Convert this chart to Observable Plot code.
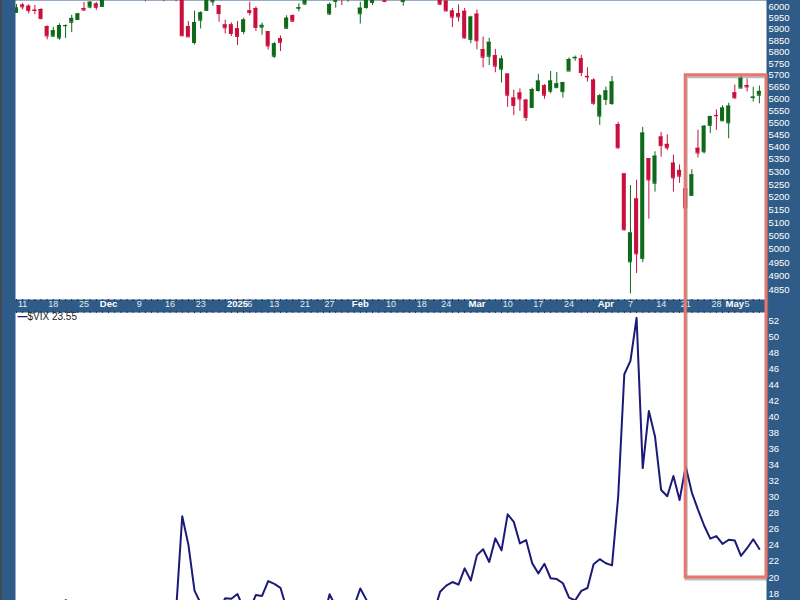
<!DOCTYPE html>
<html>
<head>
<meta charset="utf-8">
<script src="https://cdn.jsdelivr.net/npm/d3@7"></script>
<script src="https://cdn.jsdelivr.net/npm/@observablehq/plot@0.6"></script>
<style>
html, body { margin:0; padding:0; background:#2e5b87; width:800px; height:600px; overflow:hidden; }
#wrap { position:relative; width:800px; height:600px; }
#wrap svg { display:block; }
#edge { position:absolute; left:0; top:0; width:2px; height:600px; background:#3f4b56; }
#overlay { position:absolute; left:0; top:0; pointer-events:none; }
</style>
</head>
<body>
<div id="wrap"></div>
<script>
// ---- Data (trading days, S&P 500 OHLC and $VIX close) ----
const dates = ["2024-11-08","2024-11-11","2024-11-12","2024-11-13","2024-11-14","2024-11-15","2024-11-18","2024-11-19","2024-11-20","2024-11-21","2024-11-22","2024-11-25","2024-11-26","2024-11-27","2024-11-29","2024-12-02","2024-12-03","2024-12-04","2024-12-05","2024-12-06","2024-12-09","2024-12-10","2024-12-11","2024-12-12","2024-12-13","2024-12-16","2024-12-17","2024-12-18","2024-12-19","2024-12-20","2024-12-23","2024-12-24","2024-12-26","2024-12-27","2024-12-30","2024-12-31","2025-01-02","2025-01-03","2025-01-06","2025-01-07","2025-01-08","2025-01-10","2025-01-13","2025-01-14","2025-01-15","2025-01-16","2025-01-17","2025-01-21","2025-01-22","2025-01-23","2025-01-24","2025-01-27","2025-01-28","2025-01-29","2025-01-30","2025-01-31","2025-02-03","2025-02-04","2025-02-05","2025-02-06","2025-02-07","2025-02-10","2025-02-11","2025-02-12","2025-02-13","2025-02-14","2025-02-18","2025-02-19","2025-02-20","2025-02-21","2025-02-24","2025-02-25","2025-02-26","2025-02-27","2025-02-28","2025-03-03","2025-03-04","2025-03-05","2025-03-06","2025-03-07","2025-03-10","2025-03-11","2025-03-12","2025-03-13","2025-03-14","2025-03-17","2025-03-18","2025-03-19","2025-03-20","2025-03-21","2025-03-24","2025-03-25","2025-03-26","2025-03-27","2025-03-28","2025-03-31","2025-04-01","2025-04-02","2025-04-03","2025-04-04","2025-04-07","2025-04-08","2025-04-09","2025-04-10","2025-04-11","2025-04-14","2025-04-15","2025-04-16","2025-04-17","2025-04-21","2025-04-22","2025-04-23","2025-04-24","2025-04-25","2025-04-28","2025-04-29","2025-04-30","2025-05-01","2025-05-02","2025-05-05","2025-05-06","2025-05-07"];

const open  = [5976,6009,6004,5986,5989,5912,5870,5862,5917,5932,5944,5993,6000,6014,6003,6040,6042,6069,6089,6081,6084,6058,6060,6075,6068,6063,6053,6047,5912,5842,5941,5985,6024,6006,5920,5920,5903,5891,5983,5993,5910,5890,5782,5859,5905,5961,5995,6014,6082,6076,6121,5969,6026,6058,6068,6095,5970,5998,6021,6072,6083,6046,6049,6025,6060,6116,6122,6118,6134,6114,6027,5982,5971,5981,5856,5968,5811,5782,5785,5726,5705,5603,5624,5594,5563,5635,5655,5632,5647,5630,5718,5775,5771,5695,5679,5527,5597,5580,5492,5292,4953,5193,4966,5353,5255,5441,5411,5335,5306,5232,5207,5395,5381,5489,5530,5508,5499,5625,5645,5656,5605,5615];
const high  = [6012,6017,6010,6008,5993,5916,5909,5925,5920,5963,5972,6021,6025,6021,6045,6053,6053,6089,6099,6099,6088,6065,6092,6079,6078,6085,6058,6070,5935,5982,5979,6040,6050,6006,5941,5929,5935,5950,6022,6001,5928,5891,5842,5871,5961,5965,6015,6051,6101,6119,6128,6018,6074,6063,6086,6121,6022,6042,6062,6084,6101,6074,6076,6064,6116,6128,6130,6147,6135,6115,6043,5993,6010,5994,5959,5987,5866,5861,5812,5783,5705,5636,5642,5598,5645,5704,5660,5716,5712,5670,5775,5783,5786,5732,5685,5618,5650,5695,5501,5292,5246,5267,5481,5353,5381,5460,5450,5367,5328,5233,5309,5469,5489,5528,5553,5571,5581,5658,5700,5684,5649,5654];
const low   = [5976,5987,5969,5966,5942,5854,5866,5852,5860,5886,5944,5980,5992,5985,6003,6035,6033,6061,6072,6079,6045,6024,6060,6051,6024,6060,6024,5867,5866,5832,5902,5985,6004,5932,5880,5869,5829,5877,5960,5891,5874,5809,5773,5803,5905,5931,5979,6007,6074,6075,6088,5962,5995,6007,6022,6031,5924,5991,6007,6059,6020,6044,6042,6004,6051,6107,6100,6111,6087,6008,5978,5909,5933,5858,5837,5810,5732,5742,5711,5667,5564,5529,5547,5505,5563,5628,5598,5621,5646,5603,5718,5760,5694,5671,5572,5489,5572,5572,5391,5070,4835,4910,4950,5115,5220,5359,5386,5220,5255,5101,5207,5356,5372,5455,5468,5505,5434,5597,5645,5629,5586,5579];
const close = [5996,6001,5984,5985,5949,5871,5894,5917,5917,5949,5969,5987,6022,5999,6032,6047,6050,6086,6075,6090,6053,6035,6084,6051,6051,6074,6051,5872,5867,5931,5974,6040,6038,5971,5907,5882,5869,5942,5975,5909,5918,5827,5836,5843,5950,5937,5997,6049,6086,6119,6101,6012,6068,6039,6071,6041,5995,6038,6061,6084,6026,6066,6069,6052,6115,6115,6130,6144,6118,6013,5983,5955,5956,5862,5955,5850,5778,5843,5739,5770,5615,5572,5599,5522,5639,5675,5615,5675,5663,5668,5768,5777,5712,5693,5581,5612,5633,5671,5397,5074,5062,4983,5457,5268,5363,5406,5397,5276,5283,5158,5288,5376,5485,5525,5529,5561,5569,5604,5687,5650,5607,5631];

const vix = [14.94,14.97,14.71,14.02,14.31,16.14,15.58,16.35,17.16,16.87,15.24,14.60,14.10,14.10,13.51,13.34,13.30,13.45,13.54,12.77,14.19,14.18,13.58,13.92,13.81,14.69,15.87,27.62,24.09,18.36,16.78,14.27,14.73,15.95,17.40,17.35,17.93,16.13,16.04,17.82,17.70,19.54,19.19,18.71,16.12,16.60,15.97,15.06,15.10,15.02,14.85,17.90,16.41,16.56,15.84,16.43,18.62,17.21,15.77,15.50,16.54,15.81,16.02,15.89,15.10,14.77,15.35,15.27,15.66,18.21,18.98,19.43,19.10,21.13,19.63,22.78,23.51,21.93,24.87,23.37,27.86,26.92,24.23,24.66,21.77,20.51,21.70,19.90,19.80,19.28,17.48,17.15,18.33,18.69,21.65,22.28,21.77,21.51,30.02,45.31,46.98,52.33,33.62,40.72,37.56,30.89,30.12,32.64,29.65,33.82,30.57,28.45,26.47,24.84,25.15,24.17,24.70,24.60,22.68,23.64,24.76,23.55];

// Date-band tick labels
const tickDates  = ["2024-11-11","2024-11-18","2024-11-25","2024-12-02","2024-12-09","2024-12-16","2024-12-23","2025-01-02","2025-01-06","2025-01-13","2025-01-21","2025-01-27","2025-02-03","2025-02-10","2025-02-18","2025-02-24","2025-03-03","2025-03-10","2025-03-17","2025-03-24","2025-04-01","2025-04-07","2025-04-14","2025-04-21","2025-04-28","2025-05-01","2025-05-05"];
const tickLabels = ["11","18","25","Dec","9","16","23","2025","6","13","21","27","Feb","10","18","24","Mar","10","17","24","Apr","7","14","21","28","May","5"];

// Right-axis ticks
const priceTicks = d3.range(4850, 6001, 50);
const vixTicks = d3.range(18, 53, 2);

// Highlight box (annotation)
const highlightFrom = "2025-04-21";
const highlightPriceTop = 5700;
const highlightVixBottom = 20;
const vixSymbol = "$VIX";

// ---- Build ----
const GREEN = "#0e6a1a", RED = "#c9103d", NAVY = "#1c1a78";
const FONT = "Liberation Sans, Arial, Helvetica, sans-serif";
const rows = dates.map((d, i) => ({i, o: open[i], h: high[i], l: low[i], c: close[i], up: close[i] >= open[i]}));
const vrows = dates.map((d, i) => ({i, v: vix[i]}));
const idxAll = dates.map((d, i) => i);
const tickIdx = tickDates.map(d => dates.indexOf(d));
const labelAt = new Map(tickIdx.map((k, j) => [k, tickLabels[j]]));
const isWord = s => !/^\d{1,2}$/.test(s);
const dayTicks = tickIdx.filter(k => !isWord(labelAt.get(k)));
const wordTicks = tickIdx.filter(k => isWord(labelAt.get(k)));
const xDomain = [-0.156, 122.16];
const hw = 0.33;
const colorOf = d => d.up ? GREEN : RED;

const topPlot = Plot.plot({
  width: 800, height: 310,
  marginLeft: 15, marginRight: 34, marginTop: 0, marginBottom: 11,
  style: {background: "transparent", color: "white", fontFamily: FONT, overflow: "visible"},
  x: {type: "linear", domain: xDomain},
  y: {type: "log", domain: [4814.7, 6029.9]},
  marks: [
    Plot.frame({fill: "white", stroke: null}),
    Plot.ruleX(rows, {x: "i", y1: "l", y2: "h", stroke: colorOf, strokeWidth: 1, clip: true}),
    Plot.rect(rows, {x1: d => d.i - hw, x2: d => d.i + hw, y1: "o", y2: "c", fill: colorOf, clip: true}),
    Plot.ruleY(rows, {y: "c", x1: d => d.i - hw, x2: d => d.i + hw, stroke: colorOf, strokeWidth: 1, clip: true}),
    Plot.ruleY(rows, {y: "o", x1: d => d.i - hw, x2: d => d.i + hw, stroke: colorOf, strokeWidth: 1, clip: true}),
    Plot.axisY({anchor: "right", ticks: priceTicks, tickSize: 0, tickPadding: 2, tickFormat: d => String(d), fill: "white", fontSize: 9.5, label: null}),
    Plot.axisX({ticks: idxAll, tickSize: 2, tickFormat: () => "", stroke: "#1a3350", label: null}),
    Plot.axisX({ticks: dayTicks, tickSize: 0, tickPadding: 1, tickFormat: k => labelAt.get(k), fill: "#e4eaf1", fontSize: 9, label: null}),
    Plot.axisX({ticks: wordTicks, tickSize: 0, tickPadding: 1, tickFormat: k => labelAt.get(k), fill: "white", fontSize: 9.5, fontWeight: "bold", label: null})
  ]
});

const vixPlot = Plot.plot({
  width: 800, height: 290,
  marginLeft: 15, marginRight: 34, marginTop: 2, marginBottom: 0,
  style: {background: "transparent", color: "white", fontFamily: FONT, overflow: "visible"},
  x: {type: "linear", domain: xDomain},
  y: {domain: [17.13, 53.0]},
  marks: [
    Plot.frame({fill: "white", stroke: null}),
    Plot.axisX({anchor: "top", ticks: idxAll, tickSize: 2, tickFormat: () => "", stroke: "#1a3350", label: null}),
    Plot.line(vrows, {x: "i", y: "v", stroke: NAVY, strokeWidth: 2, clip: true}),
    Plot.axisY({anchor: "right", ticks: vixTicks, tickSize: 0, tickPadding: 2, tickFormat: d => String(d), fill: "white", fontSize: 9.5, label: null}),
    Plot.text(["—"], {frameAnchor: "top-left", dx: 2, dy: 0, text: d => d, fill: NAVY, fontWeight: "bold", fontSize: 10, textAnchor: "start", lineAnchor: "top"}),
    Plot.text([`${vixSymbol} ${vix[vix.length - 1].toFixed(2)}`], {frameAnchor: "top-left", dx: 12, dy: 0.5, text: d => d, fill: "#222", fontSize: 10, textAnchor: "start", lineAnchor: "top"})
  ]
});

const wrap = document.getElementById("wrap");
wrap.appendChild(topPlot);
wrap.appendChild(vixPlot);
const edge = document.createElement("div"); edge.id = "edge"; wrap.appendChild(edge);

// Highlight rectangle from the plots' scales
const sx = topPlot.scale("x"), sy = topPlot.scale("y"), vy = vixPlot.scale("y");
const vixTop = 310;
const xL = sx.apply(dates.indexOf(highlightFrom));
const xR = sx.range[1];
const yT = sy.apply(highlightPriceTop);
const yB = vixTop + vy.apply(highlightVixBottom);
const ov = d3.select(wrap).append("svg").attr("id", "overlay").attr("width", 800).attr("height", 600);
ov.append("rect").attr("x", xL + 1).attr("y", yT + 2).attr("width", xR - xL).attr("height", yB - yT)
  .attr("fill", "none").attr("stroke", "#6b6b6b").attr("stroke-opacity", 0.45).attr("stroke-width", 3);
ov.append("rect").attr("x", xL).attr("y", yT).attr("width", xR - xL).attr("height", yB - yT)
  .attr("fill", "none").attr("stroke", "#e8766c").attr("stroke-width", 3);
</script>
</body>
</html>
